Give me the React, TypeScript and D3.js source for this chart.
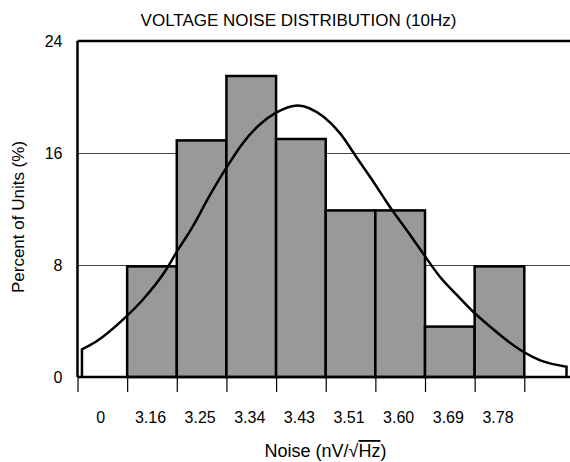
import React, { useEffect, useRef } from 'react';
import * as d3 from 'd3';

// histogram bins (index along x) and percent of units per bin
const binLabels = ['0', '3.16', '3.25', '3.34', '3.43', '3.51', '3.60', '3.69', '3.78'];
const binPercent = [0, 7.9, 16.9, 21.5, 17.0, 11.9, 11.9, 3.6, 7.9];
const yTicks = [0, 8, 16, 24];

// fitted distribution curve as [bin position, percent]
const curveX = [0.09, 0.37, 0.98, 1.31, 1.78, 1.98, 2.32, 2.65, 2.99, 3.33, 3.66, 4.0, 4.44, 4.95, 5.29, 5.62, 5.96, 6.29, 6.63, 6.96, 7.3, 7.64, 7.97, 8.31, 8.64, 8.98, 9.31, 9.85];
const curveY = [1.98, 2.52, 4.31, 5.5, 7.64, 8.83, 10.74, 12.88, 14.9, 16.7, 18.0, 18.88, 19.4, 18.6, 17.4, 15.7, 13.95, 12.16, 10.5, 8.83, 7.16, 5.86, 4.66, 3.6, 2.64, 1.8, 1.2, 0.74];

const W = 570;
const H = 462;
const FONT = '"Liberation Sans", Arial, sans-serif';

export default function App() {
  const svgRef = useRef<SVGSVGElement>(null);

  useEffect(() => {
    const svg = d3.select(svgRef.current);
    svg.selectAll('*').remove();

    const x = d3.scaleLinear().domain([0, 9]).range([77.5, 524.3]);
    const y = d3.scaleLinear().domain([0, 24]).range([377, 41]);
    const right = W;

    // gridlines
    svg.append('g')
      .selectAll('line')
      .data([8, 16])
      .enter().append('line')
      .attr('x1', x(0)).attr('x2', right)
      .attr('y1', d => y(d) + 0.5).attr('y2', d => y(d) + 0.5)
      .attr('stroke', '#444').attr('stroke-width', 1);

    // bars
    svg.append('g')
      .selectAll('rect')
      .data(binPercent.map((v, i) => ({ v, i })).filter(d => d.v > 0))
      .enter().append('rect')
      .attr('x', d => x(d.i))
      .attr('y', d => y(d.v))
      .attr('width', x(1) - x(0))
      .attr('height', d => y(0) - y(d.v))
      .attr('fill', '#999999')
      .attr('stroke', '#000')
      .attr('stroke-width', 2.5);

    // distribution curve
    const pts: [number, number][] = curveX.map((c, i) => [c, curveY[i]]);
    const line = d3.line<[number, number]>()
      .x(d => x(d[0]))
      .y(d => y(d[1]))
      .curve(d3.curveMonotoneX);
    const first = pts[0];
    const last = pts[pts.length - 1];
    svg.append('path')
      .attr('d', `M${x(first[0])},${y(0)}L${x(first[0])},${y(first[1])}` + line(pts)!.replace(/^M/, 'L') + `L${x(last[0])},${y(0)}`)
      .attr('fill', 'none')
      .attr('stroke', '#000')
      .attr('stroke-width', 2.5);

    // frame: top, left and bottom
    svg.append('line')
      .attr('x1', x(0)).attr('x2', right).attr('y1', y(24)).attr('y2', y(24))
      .attr('stroke', '#000').attr('stroke-width', 2.5);
    svg.append('line')
      .attr('x1', x(0)).attr('x2', x(0)).attr('y1', y(24)).attr('y2', y(0))
      .attr('stroke', '#000').attr('stroke-width', 2.5);
    svg.append('line')
      .attr('x1', x(0)).attr('x2', right).attr('y1', y(0)).attr('y2', y(0))
      .attr('stroke', '#000').attr('stroke-width', 2.5);

    // x ticks at bin edges
    const xAxis = d3.axisBottom(x)
      .tickValues(d3.range(0, 10))
      .tickFormat(() => '')
      .tickSizeInner(15)
      .tickSizeOuter(0);
    const gx = svg.append('g')
      .attr('transform', `translate(0,${y(0)})`)
      .call(xAxis);
    gx.select('.domain').remove();
    gx.selectAll('.tick line').attr('stroke', '#000').attr('stroke-width', 1.2);

    // bin labels
    svg.append('g')
      .selectAll('text')
      .data(binLabels)
      .enter().append('text')
      .attr('x', (d, i) => x(i + 0.5) - 1.5)
      .attr('y', 423)
      .attr('text-anchor', 'middle')
      .style('font-family', FONT)
      .style('font-size', '16px')
      .text(d => d);

    // y labels
    const yAxis = d3.axisLeft(y)
      .tickValues(yTicks)
      .tickSize(0)
      .tickPadding(15);
    const gy = svg.append('g')
      .attr('transform', `translate(${x(0)},0)`)
      .call(yAxis);
    gy.select('.domain').remove();
    gy.selectAll('text')
      .style('font-family', FONT)
      .style('font-size', '16px')
      .attr('fill', '#000');

    // title
    svg.append('text')
      .attr('x', 298.5).attr('y', 26)
      .attr('text-anchor', 'middle')
      .style('font-family', FONT)
      .style('font-size', '17px')
      .text('VOLTAGE NOISE DISTRIBUTION (10Hz)');

    // axis titles
    const xl = svg.append('text')
      .attr('x', 325.5).attr('y', 457)
      .attr('text-anchor', 'middle')
      .style('font-family', FONT)
      .style('font-size', '18px');
    xl.append('tspan').text('Noise (nV/√');
    xl.append('tspan').style('text-decoration', 'overline').text('Hz');
    xl.append('tspan').text(')');

    svg.append('text')
      .attr('transform', 'translate(24,217) rotate(-90)')
      .attr('text-anchor', 'middle')
      .style('font-family', FONT)
      .style('font-size', '17px')
      .text('Percent of Units (%)');
  }, []);

  return (
    <svg
      ref={svgRef}
      width={W}
      height={H}
      style={{ position: 'absolute', left: 0, top: 0, background: '#fff' }}
    />
  );
}
